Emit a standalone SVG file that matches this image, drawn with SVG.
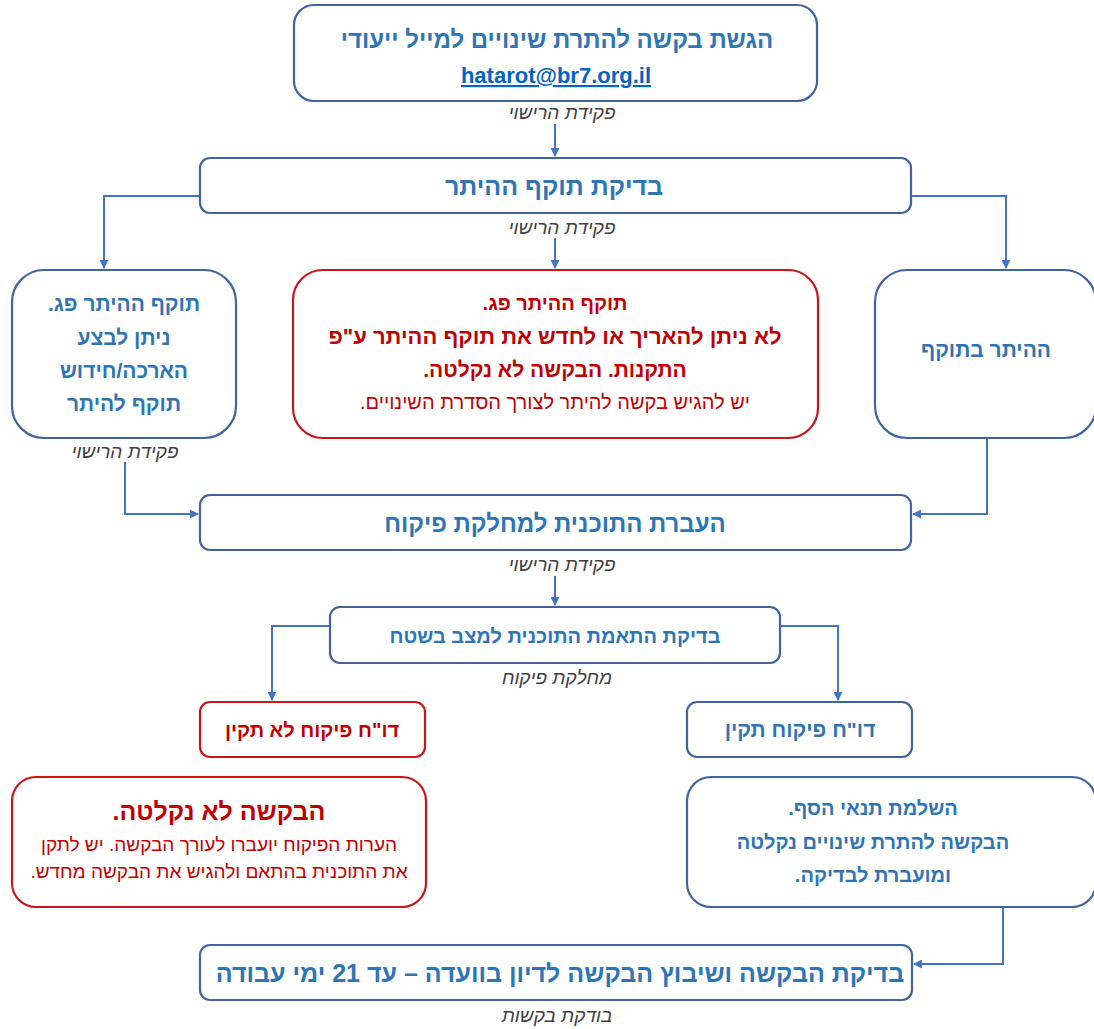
<svg xmlns="http://www.w3.org/2000/svg" width="1094" height="1029" viewBox="0 0 1094 1029">
<style>
.bx{fill:#fff;stroke:#41639E;stroke-width:2.2}
.rb{fill:#fff;stroke:#C8161D;stroke-width:2.2}
.t{font-family:"Liberation Sans","DejaVu Sans",sans-serif;font-weight:bold;fill:#2E75B6;text-anchor:middle;direction:rtl}
.r{font-family:"Liberation Sans","DejaVu Sans",sans-serif;font-weight:bold;fill:#C00000;text-anchor:middle;direction:rtl}
.rn{font-family:"Liberation Sans","DejaVu Sans",sans-serif;fill:#C00000;text-anchor:middle;direction:rtl}
.lb{font-family:"Liberation Sans","DejaVu Sans",sans-serif;font-style:italic;fill:#404040;font-size:19px;text-anchor:middle;direction:rtl}
.c{fill:none;stroke:#4472C4;stroke-width:2}
</style>
<defs>
<marker id="ah" viewBox="0 0 10 10" refX="9" refY="5" markerWidth="9" markerHeight="9" markerUnits="userSpaceOnUse" orient="auto">
<path d="M0,0 L10,5 L0,10 z" fill="#4472C4"/>
</marker>
</defs>
<rect width="1094" height="1029" fill="#fff"/>
<g id="connectors">
<path class="c" d="M555,124 V156" marker-end="url(#ah)"/>
<path class="c" d="M555,238 V268" marker-end="url(#ah)"/>
<path class="c" d="M200,196 H104 V268" marker-end="url(#ah)"/>
<path class="c" d="M911,196 H1006 V268" marker-end="url(#ah)"/>
<path class="c" d="M125,462 V514 H198" marker-end="url(#ah)"/>
<path class="c" d="M987,439 V514 H913" marker-end="url(#ah)"/>
<path class="c" d="M555,576 V605" marker-end="url(#ah)"/>
<path class="c" d="M330,626 H272 V700" marker-end="url(#ah)"/>
<path class="c" d="M780,626 H838 V700" marker-end="url(#ah)"/>
<path class="c" d="M1003,908 V964 H914" marker-end="url(#ah)"/>
</g>
<g id="n1">
<rect class="bx" x="294" y="5" width="523" height="96" rx="20"/>
<text class="t" x="557" y="48" font-size="24">הגשת בקשה להתרת שינויים למייל ייעודי</text>
<text x="556" y="83" font-size="22" font-family="Liberation Sans,DejaVu Sans,sans-serif" font-weight="bold" fill="#0563C1" text-anchor="middle" text-decoration="underline">hatarot@br7.org.il</text>
</g>
<text class="lb" x="562" y="119">פקידת הרישוי</text>
<g id="n2">
<rect class="bx" x="200" y="158" width="711" height="55" rx="10"/>
<text class="t" x="554" y="195" font-size="25">בדיקת תוקף ההיתר</text>
</g>
<text class="lb" x="562" y="234">פקידת הרישוי</text>
<g id="n3">
<rect class="bx" x="12" y="270" width="224" height="168" rx="32"/>
<text class="t" x="124" y="311" font-size="21">תוקף ההיתר פג.</text>
<text class="t" x="124" y="345" font-size="21">ניתן לבצע</text>
<text class="t" x="124" y="378" font-size="21">הארכה/חידוש</text>
<text class="t" x="124" y="411" font-size="21">תוקף להיתר</text>
</g>
<text class="lb" x="125" y="458">פקידת הרישוי</text>
<g id="n4">
<rect class="rb" x="293" y="270" width="525" height="168" rx="30"/>
<text class="r" x="555" y="310" font-size="20">תוקף ההיתר פג.</text>
<text class="r" x="555" y="344" font-size="22">לא ניתן להאריך או לחדש את תוקף ההיתר ע"פ</text>
<text class="r" x="555" y="377" font-size="21">התקנות. הבקשה לא נקלטה.</text>
<text class="rn" x="555" y="409" font-size="20">יש להגיש בקשה להיתר לצורך הסדרת השינויים.</text>
</g>
<g id="n5">
<rect class="bx" x="875" y="270" width="221" height="168" rx="32"/>
<text class="t" x="986" y="357" font-size="21">ההיתר בתוקף</text>
</g>
<g id="n6">
<rect class="bx" x="200" y="495" width="711" height="55" rx="10"/>
<text class="t" x="555" y="532" font-size="24">העברת התוכנית למחלקת פיקוח</text>
</g>
<text class="lb" x="562" y="571">פקידת הרישוי</text>
<g id="n7">
<rect class="bx" x="330" y="607" width="450" height="56" rx="10"/>
<text class="t" x="555" y="643" font-size="20">בדיקת התאמת התוכנית למצב בשטח</text>
</g>
<text class="lb" x="557" y="684">מחלקת פיקוח</text>
<g id="n8">
<rect class="rb" x="200" y="702" width="225" height="55" rx="10"/>
<text class="r" x="312" y="737" font-size="20">דו"ח פיקוח לא תקין</text>
</g>
<g id="n9">
<rect class="bx" x="687" y="702" width="225" height="55" rx="10"/>
<text class="t" x="800" y="737" font-size="21">דו"ח פיקוח תקין</text>
</g>
<g id="n10">
<rect class="rb" x="12" y="777" width="414" height="130" rx="24"/>
<text class="r" x="219" y="820" font-size="25">הבקשה לא נקלטה.</text>
<text class="rn" x="219" y="851" font-size="19">הערות הפיקוח יועברו לעורך הבקשה. יש לתקן</text>
<text class="rn" x="219" y="878" font-size="19">את התוכנית בהתאם ולהגיש את הבקשה מחדש.</text>
</g>
<g id="n11">
<rect class="bx" x="687" y="777" width="409" height="130" rx="24"/>
<text class="t" x="873" y="815" font-size="20">השלמת תנאי הסף.</text>
<text class="t" x="873" y="849" font-size="20">הבקשה להתרת שינויים נקלטה</text>
<text class="t" x="873" y="882" font-size="20">ומועברת לבדיקה.</text>
</g>
<g id="n12">
<rect class="bx" x="200" y="945" width="712" height="55" rx="10"/>
<text class="t" x="560" y="982" font-size="25">בדיקת הבקשה ושיבוץ הבקשה לדיון בוועדה – עד 21 ימי עבודה</text>
</g>
<text class="lb" x="557" y="1022">בודקת בקשות</text>
</svg>
